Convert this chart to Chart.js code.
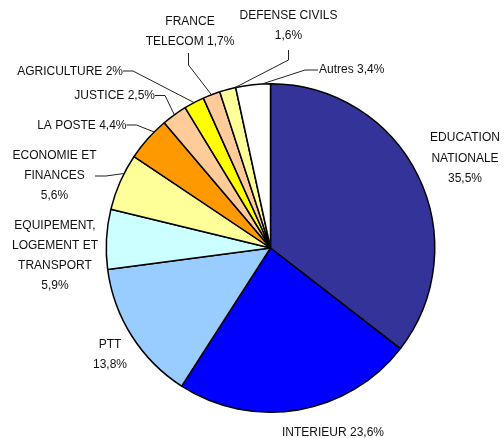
<!DOCTYPE html>
<html>
<head>
<meta charset="utf-8">
<script src="https://cdn.jsdelivr.net/npm/chart.js@4/dist/chart.umd.min.js"></script>
<style>
    html, body { margin: 0; padding: 0; background: #ffffff; }
    #wrap { width: 504px; height: 438px; }
</style>
</head>
<body>
<div id="wrap"><canvas id="pieChart" width="504" height="438"></canvas></div>
<script>
// Data
const categories = ['EDUCATION NATIONALE', 'INTERIEUR', 'PTT', 'EQUIPEMENT, LOGEMENT ET TRANSPORT',
    'ECONOMIE ET FINANCES', 'LA POSTE', 'JUSTICE', 'AGRICULTURE', 'FRANCE TELECOM', 'DEFENSE CIVILS', 'Autres'];
const values = [35.5, 23.6, 13.8, 5.9, 5.6, 4.4, 2.5, 2, 1.7, 1.6, 3.4];
const sliceColors = ['#333399', '#0000ff', '#99ccff', '#ccffff', '#ffff99', '#ff9900',
    '#ffcc99', '#ffff00', '#ffcc99', '#ffff99', '#ffffff'];

// how the labels break into lines (the percent is appended to the last line)
const labelLines = [
    ['EDUCATION', 'NATIONALE', ''],
    ['INTERIEUR '],
    ['PTT', ''],
    ['EQUIPEMENT,', 'LOGEMENT ET', 'TRANSPORT', ''],
    ['ECONOMIE ET', 'FINANCES', ''],
    ['LA POSTE '],
    ['JUSTICE '],
    ['AGRICULTURE '],
    ['FRANCE', 'TELECOM '],
    ['DEFENSE CIVILS', ''],
    ['Autres ']
];

// label placement: text anchor, alignment, and leader (start, elbow, position along the slice 0..1)
const labelLayout = [
    { x: 465, y: 138, align: 'center', lh: 20.5 },
    { x: 333, y: 433, align: 'center', lh: 20 },
    { x: 110, y: 345, align: 'center', lh: 19.5 },
    { x: 55, y: 226, align: 'center', lh: 20 },
    { x: 54.5, y: 156, align: 'center', lh: 20, leader: [[95, 176], [106, 176]], at: 0.66 },
    { x: 126.5, y: 125.5, align: 'right', lh: 20, leader: [[126.5, 125], [136.5, 125]], at: 0.7 },
    { x: 155, y: 95.5, align: 'right', lh: 20, leader: [[155, 95.5], [165, 95.5]], at: 0.5 },
    { x: 123, y: 71.5, align: 'right', lh: 20, leader: [[123, 71], [133, 71]], at: 0.5 },
    { x: 190, y: 21.5, align: 'center', lh: 20, leader: [[188.5, 53], [188.5, 65]], at: 0.5 },
    { x: 288.5, y: 16, align: 'center', lh: 19.5, leader: [[288.5, 50], [288.5, 60]], at: 0.95 },
    { x: 319, y: 70, align: 'left', lh: 20, leader: [[318, 70], [305, 70]], at: 0.76 }
];

function pctText(v) {
    return String(v).replace('.', ',') + '%';
}

const pieLabels = {
    id: 'pieLabels',
    afterDatasetsDraw(chart) {
        const ctx = chart.ctx;
        const meta = chart.getDatasetMeta(0);
        ctx.save();
        ctx.font = '12px "Liberation Sans", Arial, sans-serif';
        ctx.fillStyle = '#111111';
        ctx.textBaseline = 'middle';
        ctx.strokeStyle = '#222222';
        ctx.lineWidth = 1;

        meta.data.forEach((arc, i) => {
            const lay = labelLayout[i];
            const lines = labelLines[i].slice();
            lines[lines.length - 1] = lines[lines.length - 1] + pctText(values[i]);

            ctx.textAlign = lay.align;
            lines.forEach((t, k) => ctx.fillText(t, lay.x, lay.y + k * lay.lh));

            if (lay.leader) {
                const p = arc.getProps(['x', 'y', 'startAngle', 'endAngle', 'outerRadius'], true);
                const a = p.startAngle + (p.endAngle - p.startAngle) * lay.at;
                const ex = p.x + Math.cos(a) * p.outerRadius;
                const ey = p.y + Math.sin(a) * p.outerRadius;
                ctx.beginPath();
                ctx.moveTo(lay.leader[0][0], lay.leader[0][1]);
                ctx.lineTo(lay.leader[1][0], lay.leader[1][1]);
                ctx.lineTo(ex, ey);
                ctx.stroke();
            }
        });
        ctx.restore();
    }
};

document.addEventListener('DOMContentLoaded', function() {
    const ctx = document.getElementById('pieChart').getContext('2d');
    new Chart(ctx, {
        type: 'pie',
        data: {
            labels: categories,
            datasets: [{
                data: values,
                backgroundColor: sliceColors,
                borderColor: '#000000',
                borderWidth: 1.5
            }]
        },
        options: {
            responsive: false,
            animation: false,
            layout: {
                padding: { left: 105, right: 68, top: 83, bottom: 25 }
            },
            plugins: {
                legend: { display: false },
                tooltip: { enabled: false }
            }
        },
        plugins: [pieLabels]
    });
});
</script>
</body>
</html>
